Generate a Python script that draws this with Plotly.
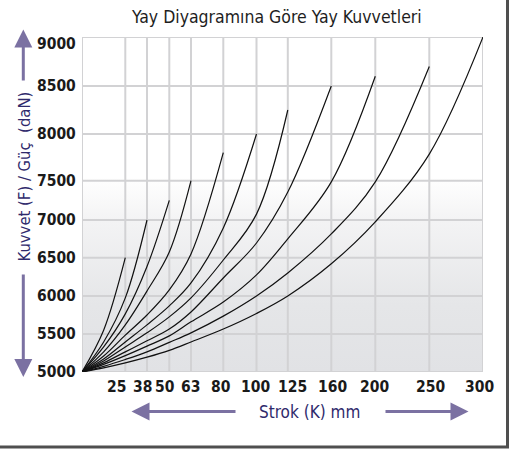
import numpy as np
import plotly.graph_objects as go

# ---------------- data ----------------
STROKE_TICKS = [25, 38, 50, 63, 80, 100, 125, 160, 200, 250, 300]          # mm
FORCE_TICKS = [5000, 5500, 6000, 6500, 7000, 7500, 8000, 8500, 9000]      # daN

STROKE_READ = [0, 12.5, 25, 38, 50, 63, 80, 100, 125, 160, 200, 250, 300]

F_25 = [5000, 5550, 6500]
F_38 = [5000, 5395, 5975, 7000]
F_50 = [5000, 5330, 5765, 6385, 7250]
F_63 = [5000, 5265, 5620, 6065, 6575, 7500]
F_80 = [5000, 5210, 5485, 5750, 6080, 6550, 7800]
F_100 = [5000, 5170, 5395, 5620, 5870, 6170, 6895, 8000]
F_125 = [5000, 5145, 5330, 5515, 5725, 5975, 6470, 7075, 8250]
F_160 = [5000, 5120, 5265, 5410, 5565, 5790, 6235, 6695, 7355, 8500]
F_200 = [5000, 5100, 5215, 5340, 5475, 5660, 5920, 6275, 6750, 7485, 8600]
F_250 = [5000, 5075, 5165, 5265, 5390, 5515, 5735, 6000, 6300, 6815, 7485, 8700]
F_300 = [5000, 5055, 5120, 5195, 5285, 5395, 5565, 5770, 6000, 6420, 6975, 7785, 9000]
SPRINGS = [F_25, F_38, F_50, F_63, F_80, F_100, F_125, F_160, F_200, F_250, F_300]

TITLE = "Yay Diyagramına Göre Yay Kuvvetleri"
X_TITLE = "Strok (K) mm"
Y_TITLE = "Kuvvet (F) / Güç  (daN)"

# ---------------- axis scales (the printed grid is not evenly spaced) ----------------
X_SCALE_DOMAIN = [0] + STROKE_TICKS
X_SCALE_RANGE = [0, 43.3, 65, 87.3, 109, 141.3, 174.5, 205.8, 249.3, 293.3, 347.3, 401]
Y_SCALE_DOMAIN = FORCE_TICKS
Y_SCALE_RANGE = [0, 38, 76, 114.3, 152, 191.3, 238, 286, 335]
# printed labels sit slightly off their grid lines (pixels)
X_LABEL_SHIFT = [-9, -5, -4.5, -1, -2, -1, 4.5, 1, -1, 1.5, -3.5]
Y_LABEL_SHIFT = [0, 0, 0, 0, 0, 0, 0, 0, -7]


def sx(v):
    return np.interp(v, X_SCALE_DOMAIN, X_SCALE_RANGE)


def sy(v):
    return np.interp(v, Y_SCALE_DOMAIN, Y_SCALE_RANGE)


XMAX = X_SCALE_RANGE[-1]
YMAX = Y_SCALE_RANGE[-1]

# ---------------- figure geometry ----------------
W, H = 509, 450
ML, MR, MT, MB = 82, 26, 37, 78
PW, PH = W - ML - MR, H - MT - MB


def px(xp):
    return (xp - ML) / PW


def py(yp):
    return (H - MB - yp) / PH


FONT = "DejaVu Sans Condensed, Liberation Sans Narrow, sans-serif"
NAVY = "#2f2a6c"
ARROW = "#7b71a2"
GRID = "#d2d2d4"
TICKFONT = dict(family=FONT, size=15.5, color="#1a1a1a", weight="bold")

fig = go.Figure()

# background gradient
fig.add_trace(go.Scatter(
    x=[0, XMAX, XMAX, 0, 0], y=[0, 0, YMAX, YMAX, 0],
    mode="lines", line=dict(width=0), fill="toself",
    fillgradient=dict(type="vertical",
                      colorscale=[[0, "#e1e2e5"], [0.2, "#e5e6e8"], [0.45, "#f3f3f4"],
                                  [0.58, "#ffffff"], [1, "#ffffff"]]),
    hoverinfo="skip", showlegend=False))

# grid
gx, gy = [], []
for s in [0] + STROKE_TICKS:
    gx += [float(sx(s)), float(sx(s)), None]
    gy += [0, YMAX, None]
for f in FORCE_TICKS:
    gx += [0, XMAX, None]
    gy += [float(sy(f)), float(sy(f)), None]
fig.add_trace(go.Scatter(x=gx, y=gy, mode="lines", line=dict(color=GRID, width=2),
                         hoverinfo="skip", showlegend=False))

# spring curves
for forces in SPRINGS:
    strokes = STROKE_READ[:len(forces)]
    fig.add_trace(go.Scatter(
        x=sx(strokes), y=sy(forces), mode="lines",
        line=dict(color="#111111", width=1.2, shape="spline", smoothing=1.0),
        showlegend=False, hoverinfo="skip"))

fig.update_xaxes(range=[0, XMAX], showgrid=False, zeroline=False, showline=False,
                 showticklabels=False, ticks="", automargin=False, fixedrange=True)
fig.update_yaxes(range=[0, YMAX], showgrid=False, zeroline=False, showline=False,
                 showticklabels=False, ticks="", automargin=False, fixedrange=True)

annotations = [
    dict(text=TITLE, x=px(276), y=py(17), xref="paper", yref="paper", showarrow=False,
         xanchor="center", yanchor="middle", font=dict(family=FONT, size=17.5, color="#1e1e1e")),
    dict(text=X_TITLE, x=px(309), y=py(411.5), xref="paper", yref="paper", showarrow=False,
         xanchor="center", yanchor="middle", font=dict(family=FONT, size=17, color=NAVY)),
    dict(text=Y_TITLE, x=px(23.5), y=py(177), xref="paper", yref="paper", showarrow=False,
         textangle=-90, xanchor="center", yanchor="middle",
         font=dict(family=FONT, size=16.5, color=NAVY)),
]
# stroke tick labels
for s, sh in zip(STROKE_TICKS, X_LABEL_SHIFT):
    annotations.append(dict(text=str(s), x=float(sx(s)), y=py(387), xref="x", yref="paper",
                            xshift=sh, showarrow=False, xanchor="center", yanchor="middle",
                            font=TICKFONT))
# force tick labels
for f, sh in zip(FORCE_TICKS, Y_LABEL_SHIFT):
    annotations.append(dict(text=str(f), x=px(78), y=float(sy(f)), xref="paper", yref="y",
                            yshift=sh, showarrow=False, xanchor="right", yanchor="middle",
                            font=TICKFONT))
# arrows: (tip_x, tip_y, tail_x, tail_y) in pixels
for tx, ty, ax, ay in [(23.3, 29.5, 23.3, 82), (23.3, 377, 23.3, 273),
                       (131.5, 411.5, 237, 411.5), (468.5, 411.5, 384, 411.5)]:
    annotations.append(dict(text="", x=px(tx), y=py(ty), xref="paper", yref="paper",
                            ax=ax - tx, ay=ay - ty, showarrow=True, arrowhead=2,
                            arrowsize=1.2, arrowwidth=3, arrowcolor=ARROW, standoff=0))

shapes = [dict(type="rect", xref="paper", yref="paper",
               x0=px(-10), x1=px(507.5), y0=py(447), y1=py(-10),
               line=dict(color="#4f4f4f", width=3), fillcolor="rgba(0,0,0,0)", layer="above")]

fig.update_layout(width=W, height=H, margin=dict(l=ML, r=MR, t=MT, b=MB, autoexpand=False),
                  paper_bgcolor="white", plot_bgcolor="white",
                  annotations=annotations, shapes=shapes, showlegend=False)

fig.write_html("out.html", config={"displayModeBar": False},
               post_script="document.body.style.margin='0px';")
